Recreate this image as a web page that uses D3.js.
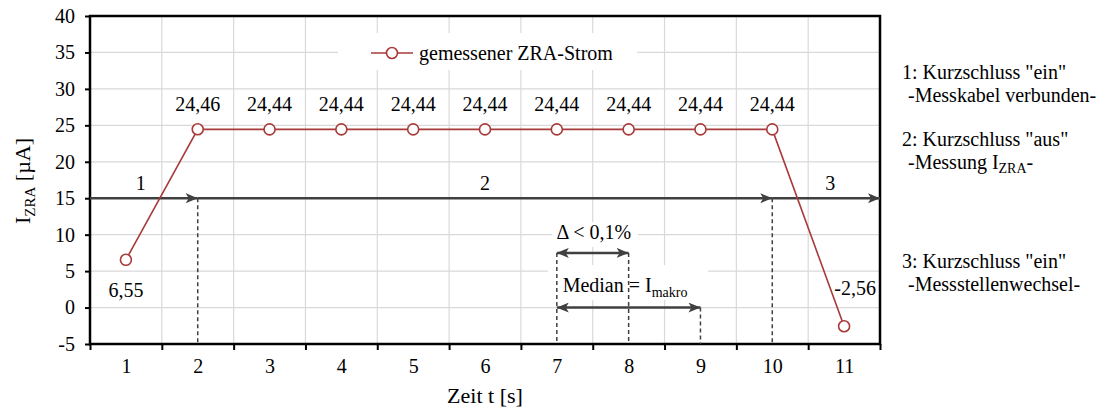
<!DOCTYPE html>
<html>
<head>
<meta charset="utf-8">
<script src="https://cdn.jsdelivr.net/npm/d3@7"></script>
<style>
  body { margin: 0; background: #fff; }
</style>
</head>
<body>
<div id="chart"></div>
<script>
// measured ZRA current per second
const times = [1, 2, 3, 4, 5, 6, 7, 8, 9, 10, 11];
const current = [6.55, 24.46, 24.44, 24.44, 24.44, 24.44, 24.44, 24.44, 24.44, 24.44, -2.56];
const valueLabels = ['6,55', '24,46', '24,44', '24,44', '24,44', '24,44', '24,44', '24,44', '24,44', '24,44', '-2,56'];
const yTicks = [-5, 0, 5, 10, 15, 20, 25, 30, 35, 40];

// phases drawn along the 15 µA line
const phaseNames = ['1', '2', '3'];
const phaseStart = [0.5, 2, 10];
const phaseEnd = [2, 10, 11.5];
const phaseLevel = 15;

const notes = [
    ['1: Kurzschluss "ein"', '-Messkabel verbunden-'],
    ['2: Kurzschluss "aus"', '-Messung I', 'ZRA', '-'],
    ['3: Kurzschluss "ein"', '-Messstellenwechsel-']
];

const width = 1108, height = 412;
const plotLeft = 90, plotRight = 880, plotTop = 16, plotBottom = 344;
const red = '#a83a3a';
const dark = '#404040';
const serif = '"Liberation Serif", "Times New Roman", Tinos, "DejaVu Serif", serif';

const svg = d3.select('#chart').append('svg')
    .attr('width', width)
    .attr('height', height)
    .style('font-family', serif);

const x = d3.scaleLinear().domain([0.5, 11.5]).range([plotLeft, plotRight]);
const y = d3.scaleLinear().domain([-5, 40]).range([plotBottom, plotTop]);

const defs = svg.append('defs');
defs.append('marker')
    .attr('id', 'head')
    .attr('viewBox', '0 0 12 10')
    .attr('refX', 12).attr('refY', 5)
    .attr('markerWidth', 12).attr('markerHeight', 10)
    .attr('markerUnits', 'userSpaceOnUse')
    .attr('orient', 'auto-start-reverse')
    .append('path')
    .attr('d', 'M0,0 L12,5 L0,10 L3,5 Z')
    .attr('fill', dark);

// grid
const boundaries = d3.range(0.5, 12, 1);
svg.append('g').selectAll('line')
    .data(boundaries.slice(1, -1))
    .enter().append('line')
    .attr('x1', d => x(d)).attr('x2', d => x(d))
    .attr('y1', plotTop).attr('y2', plotBottom)
    .attr('stroke', '#d9d9d9').attr('stroke-width', 1.2);
svg.append('g').selectAll('line')
    .data(yTicks.slice(1, -1))
    .enter().append('line')
    .attr('x1', plotLeft).attr('x2', plotRight)
    .attr('y1', d => y(d)).attr('y2', d => y(d))
    .attr('stroke', '#d9d9d9').attr('stroke-width', 1.2);

// white patches behind legend and annotation texts
svg.append('rect').attr('x', 338).attr('y', 33).attr('width', 299).attr('height', 37).attr('fill', '#fff');
svg.append('rect').attr('x', 552).attr('y', 222).attr('width', 86).attr('height', 25).attr('fill', '#fff');
svg.append('rect').attr('x', 548).attr('y', 265).attr('width', 160).attr('height', 35).attr('fill', '#fff');

// frame
svg.append('rect')
    .attr('x', plotLeft).attr('y', plotTop)
    .attr('width', plotRight - plotLeft).attr('height', plotBottom - plotTop)
    .attr('fill', 'none').attr('stroke', '#000').attr('stroke-width', 2.5);

// axes
const yAxis = svg.append('g')
    .attr('transform', `translate(${plotLeft},0)`)
    .call(d3.axisLeft(y).tickValues(yTicks).tickSize(5).tickPadding(10).tickFormat(d => String(d)));
const xAxis = svg.append('g')
    .attr('transform', `translate(0,${plotBottom})`)
    .call(d3.axisBottom(x).tickValues(boundaries).tickSize(6).tickFormat(''));
const xLabels = svg.append('g')
    .attr('transform', `translate(0,${plotBottom})`)
    .call(d3.axisBottom(x).tickValues(times).tickSize(0).tickPadding(15).tickFormat(d => String(d)));
[yAxis, xAxis, xLabels].forEach(g => {
    g.attr('font-family', null).attr('font-size', null);
    g.select('.domain').remove();
    g.selectAll('.tick line').attr('stroke', '#000').attr('stroke-width', 2);
    g.selectAll('.tick text').style('font-size', '20px').attr('fill', '#000');
});

// axis titles
const yTitle = svg.append('text')
    .attr('transform', 'translate(30,181) rotate(-90)')
    .attr('text-anchor', 'middle')
    .style('font-size', '22px');
yTitle.append('tspan').text('I');
yTitle.append('tspan').attr('dy', 5).style('font-size', '15px').text('ZRA');
yTitle.append('tspan').attr('dy', -5).text(' [µA]');

svg.append('text')
    .attr('x', x(6)).attr('y', 403)
    .attr('text-anchor', 'middle')
    .style('font-size', '22px')
    .text('Zeit t [s]');

// phase arrows
svg.append('g').selectAll('line')
    .data(phaseNames)
    .enter().append('line')
    .attr('x1', (d, i) => x(phaseStart[i]))
    .attr('x2', (d, i) => x(phaseEnd[i]))
    .attr('y1', y(phaseLevel)).attr('y2', y(phaseLevel))
    .attr('stroke', dark).attr('stroke-width', 2.5)
    .attr('marker-end', 'url(#head)');
svg.append('g').selectAll('text')
    .data(phaseNames)
    .enter().append('text')
    .attr('x', (d, i) => i === 1 ? x(6) : (x(phaseStart[i]) + x(phaseEnd[i])) / 2 + (i === 0 ? -3 : 4))
    .attr('y', y(phaseLevel) - 8)
    .attr('text-anchor', 'middle')
    .style('font-size', '20px')
    .text(d => d);

// dashed guides
const dashes = [[2, phaseLevel], [10, phaseLevel], [7, 7.5], [8, 7.5], [9, 0]];
svg.append('g').selectAll('line')
    .data(dashes)
    .enter().append('line')
    .attr('x1', d => x(d[0])).attr('x2', d => x(d[0]))
    .attr('y1', d => y(d[1])).attr('y2', plotBottom)
    .attr('stroke', dark).attr('stroke-width', 1.5)
    .attr('stroke-dasharray', '4,3');

// double arrows
const spans = [[7, 8, 7.5], [7, 9, 0]];
svg.append('g').selectAll('line')
    .data(spans)
    .enter().append('line')
    .attr('x1', d => x(d[0])).attr('x2', d => x(d[1]))
    .attr('y1', d => y(d[2])).attr('y2', d => y(d[2]))
    .attr('stroke', dark).attr('stroke-width', 2.5)
    .attr('marker-start', 'url(#head)')
    .attr('marker-end', 'url(#head)');

svg.append('text')
    .attr('x', x(7.5) + 1).attr('y', y(10) + 4)
    .attr('text-anchor', 'middle')
    .style('font-size', '20px')
    .text('Δ < 0,1%');
const median = svg.append('text')
    .attr('x', x(7.95)).attr('y', y(2.5) + 3)
    .attr('text-anchor', 'middle')
    .style('font-size', '20px');
median.append('tspan').text('Median = I');
median.append('tspan').attr('dy', 5).style('font-size', '14px').text('makro');

// series
const line = d3.line().x((d, i) => x(times[i])).y(d => y(d));
svg.append('path')
    .datum(current)
    .attr('d', line)
    .attr('fill', 'none')
    .attr('stroke', red)
    .attr('stroke-width', 1.6);
svg.append('g').selectAll('circle')
    .data(current)
    .enter().append('circle')
    .attr('cx', (d, i) => x(times[i]))
    .attr('cy', d => y(d))
    .attr('r', 5.5)
    .attr('fill', '#fff')
    .attr('stroke', red)
    .attr('stroke-width', 1.6);

svg.append('g').selectAll('text')
    .data(valueLabels)
    .enter().append('text')
    .attr('x', (d, i) => x(times[i]) + (i === 10 ? 11 : 0))
    .attr('y', (d, i) => i === 0 ? y(current[i]) + 37 : i === 10 ? y(current[i]) - 31 : y(current[i]) - 18)
    .attr('text-anchor', 'middle')
    .style('font-size', '20px')
    .text(d => d);

// legend
const legend = svg.append('g').attr('transform', 'translate(371,53)');
legend.append('line').attr('x1', 0).attr('x2', 42).attr('stroke', red).attr('stroke-width', 1.6);
legend.append('circle').attr('cx', 21).attr('r', 5.5).attr('fill', '#fff').attr('stroke', red).attr('stroke-width', 1.6);
legend.append('text').attr('x', 48).attr('y', 7).style('font-size', '20px').text('gemessener ZRA-Strom');

// notes on the right
const noteY = [79, 146, 268];
notes.forEach((n, i) => {
    svg.append('text').attr('x', 902).attr('y', noteY[i]).style('font-size', '20px').text(n[0]);
    const t = svg.append('text').attr('x', 908).attr('y', noteY[i] + 23).style('font-size', '20px');
    t.append('tspan').text(n[1]);
    if (n.length > 2) {
        t.append('tspan').attr('dy', 4).style('font-size', '14px').text(n[2]);
        t.append('tspan').attr('dy', -4).text(n[3]);
    }
});
</script>
</body>
</html>
